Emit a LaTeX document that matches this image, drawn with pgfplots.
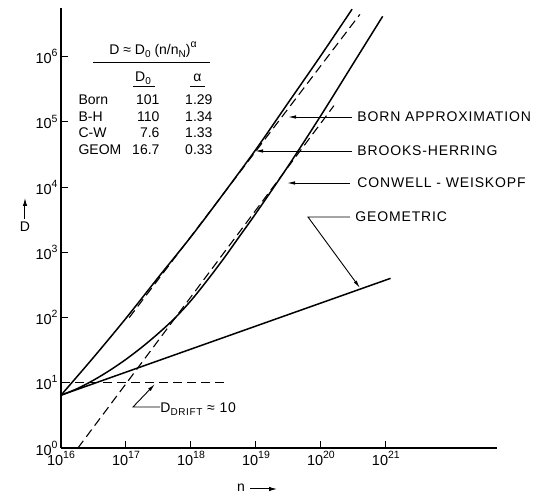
\documentclass[border=0pt]{standalone}
\usepackage{fontspec}
\setmainfont{Liberation Sans}
\newfontfamily\lab{Liberation Sans}[LetterSpace=6]
\usepackage{pgfplots}
\pgfplotsset{compat=1.18}
\usetikzlibrary{arrows.meta}
\newcommand\up[1]{\raisebox{0.9ex}{\fontsize{10.5}{10}\selectfont #1}}
\newcommand\dn[1]{\raisebox{-0.45ex}{\fontsize{10}{10}\selectfont #1}}
\newcommand\tl[1]{10\up{#1}}

\begin{document}
\begin{tikzpicture}[x=1pt,y=1pt,font=\fontsize{14}{16}\selectfont]
\begin{axis}[
  at={(0,0)},anchor=south west,
  scale only axis,width=436pt,height=439.5pt,
  xmode=log,ymode=log,
  xmin=1e16,xmax=5.13e22,ymin=1,ymax=5.5e6,
  axis lines=left,axis line style={line width=1.4pt,-},
  xtick={1e16,1e17,1e18,1e19,1e20,1e21},
  xticklabels={\tl{16},\tl{17},\tl{18},\tl{19},\tl{20},\tl{21}},
  ytick={1,10,100,1000,1e4,1e5,1e6},
  yticklabels={\tl{0},\tl{1},\tl{2},\tl{3},\tl{4},\tl{5},\tl{6}},
  tick label style={font=\fontsize{14.5}{16}\selectfont},
  xminorticks=false,yminorticks=false,
  tick align=inside,major tick length=7pt,
  tick style={line width=1pt,black},
  clip=false,
]
% Brooks-Herring (solid, left)
\addplot[black,line width=1.5pt,smooth] coordinates {
  (1e16,6.46) (3.162e16,24.5) (1e17,97.7) (3.162e17,417) (1e18,1738)
  (3.162e18,7943) (1e19,38019) (3.162e19,199526) (1e20,1.047e6) (3.02e20,5.37e6)
};
% Conwell-Weiskopf (solid, right)
\addplot[black,line width=1.5pt,smooth] coordinates {
  (1e16,6.46) (1.778e16,8.13) (3.162e16,10.96) (5.623e16,15.5) (1e17,22.9)
  (1.778e17,35.5) (3.162e17,57.5) (5.623e17,97.7) (1e18,182) (1.778e18,372)
  (3.162e18,794) (5.623e18,1778) (1e19,3981) (3.162e19,21380) (1e20,125900)
  (3.162e20,794300) (8.913e20,4.169e6)
};
% Born approximation (dashed)
\addplot[black,line width=1.1pt,dash pattern=on 9pt off 5pt] coordinates {
  (1.122e17,100) (3.98e20,4.47e6)
};
% C-W power law (dashed)
\addplot[black,line width=1.1pt,dash pattern=on 9pt off 5pt] coordinates {
  (1.82e16,1) (1.585e20,1.778e5)
};
% geometric
\addplot[black,line width=1.5pt] coordinates {(1e16,6.46) (1.18e21,400)};
% D drift
\addplot[black,line width=1.1pt,dash pattern=on 9pt off 5pt] coordinates {(1e16,10) (3.5e18,10)};
\end{axis}

% annotations
\begin{scope}[font=\fontsize{14}{16}\lab,line width=0.9pt,
  >={Latex[length=8pt,width=3.5pt]}]
\node[anchor=west,inner sep=0pt] at (296,331) {BORN APPROXIMATION};
\draw[->] (291,331) -- (227,331);
\node[anchor=west,inner sep=0pt] at (296,297) {BROOKS-HERRING};
\draw[->] (291,297) -- (194,297);
\node[anchor=west,inner sep=0pt] at (296,265) {CONWELL - WEISKOPF};
\draw[->] (289,265) -- (226,265);
\node[anchor=west,inner sep=0pt] at (294,231) {GEOMETRIC};
\draw[->] (289,231) -- (247,231) -- (299,160);
\node[anchor=west,inner sep=0pt] at (99,39) {D\dn{DRIFT} ≈ 10};
\draw[->] (99,41) -- (72,41) -- (94,64);
\end{scope}

% table
\begin{scope}[font=\fontsize{14}{16}\selectfont]
\node at (92,398) {D ≈ D\dn{0} (n/n\dn{N})\up{α}};
\draw[line width=1pt] (32,385) -- (149,385);
\node at (82,370) {D\dn{0}};
\draw[line width=0.8pt] (72,362) -- (94,362);
\node at (136.5,370) {α};
\draw[line width=0.8pt] (129,362) -- (144,362);
\node[anchor=west] at (14,348) {Born};
\node[anchor=west] at (14,331) {B-H};
\node[anchor=west] at (14,315) {C-W};
\node[anchor=west] at (14,298) {GEOM};
\node[anchor=east] at (102,348) {101};
\node[anchor=east] at (102,331) {110};
\node[anchor=east] at (102,315) {7.6};
\node[anchor=east] at (102,298) {16.7};
\node[anchor=east] at (155,348) {1.29};
\node[anchor=east] at (155,331) {1.34};
\node[anchor=east] at (155,315) {1.33};
\node[anchor=east] at (155,298) {0.33};
\end{scope}

% axis labels
\draw[line width=1pt,-{Latex[length=8pt,width=4.5pt]}] (-36,229) -- (-36,250);
\node[font=\fontsize{14}{16}\selectfont] at (-36,221) {D};
\node[font=\fontsize{14}{16}\selectfont] at (180,-40) {n};
\draw[line width=1pt,-{Latex[length=8pt,width=4.5pt]}] (189,-41) -- (216,-41);

\pgfresetboundingbox
\useasboundingbox (-61,-47) rectangle (472,448);
\end{tikzpicture}
\end{document}
